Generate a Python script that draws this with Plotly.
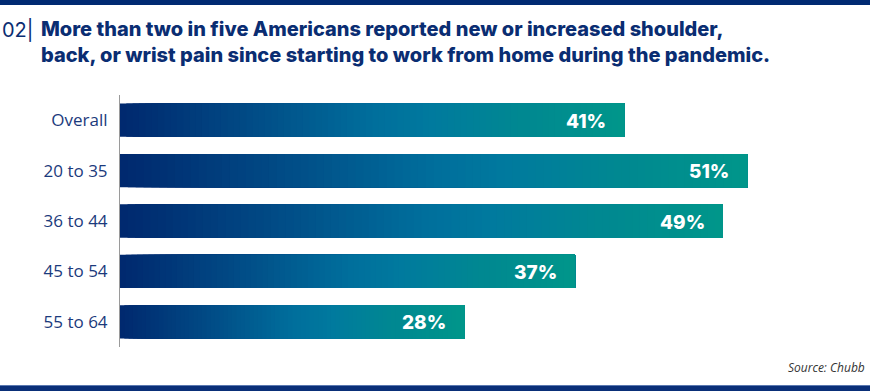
import plotly.graph_objects as go

categories = ["Overall", "20 to 35", "36 to 44", "45 to 54", "55 to 64"]
values = [41, 51, 49, 37, 28]
labels = ["41%", "51%", "49%", "37%", "28%"]

title_prefix = "02|"
title_lines = ["More than two in five Americans reported new or increased shoulder,",
               "back, or wrist pain since starting to work from home during the pandemic."]
source = "Source: Chubb"

# gradient stops (fraction along bar, rgb)
stops = [(0.0, (0, 40, 110)), (0.25, (1, 74, 133)), (0.5, (0, 110, 156)),
         (0.62, (0, 122, 158)), (0.8, (0, 136, 145)), (1.0, (0, 150, 138))]

def grad(t):
    for (a, ca), (b, cb) in zip(stops[:-1], stops[1:]):
        if a <= t <= b:
            f = (t - a) / (b - a) if b > a else 0
            c = [round(ca[i] + (cb[i] - ca[i]) * f) for i in range(3)]
            return f"rgb({c[0]},{c[1]},{c[2]})"
    return "rgb(0,150,138)"

N = 80
fig = go.Figure()
for k in range(N):
    fig.add_trace(go.Bar(
        y=categories,
        x=[v * (N - k) / N for v in values],
        base=[v * k / N for v in values],
        orientation="h",
        marker=dict(color=grad((k + 0.5) / N), line=dict(width=0)),
        hoverinfo="skip",
        showlegend=False,
    ))

navy = "#0a2d72"
L, R, T, B = 120, 8, 95, 44
W, H = 870, 391
pw, ph = W - L - R, H - T - B

def px_x(p):
    return (p - L) / pw

def px_y(p):
    return (H - B - p) / ph

shapes = [
    dict(type="rect", xref="paper", yref="paper", x0=px_x(0), x1=px_x(W),
         y0=px_y(5), y1=px_y(0), fillcolor="#002a72", line=dict(width=0), layer="above"),
    dict(type="rect", xref="paper", yref="paper", x0=px_x(0), x1=px_x(W),
         y0=px_y(391), y1=px_y(385.5), fillcolor="#0a2f78", line=dict(width=0), layer="above"),
    dict(type="line", xref="paper", yref="paper", x0=px_x(0), x1=px_x(W),
         y0=px_y(385.5), y1=px_y(385.5), line=dict(color="#5a78b0", width=1), layer="above"),
]

annotations = []
for c, v, lab in zip(categories, values, labels):
    annotations.append(dict(x=v, y=c, xref="x", yref="y", text=lab,
                            showarrow=False, xanchor="right", xshift=-16, yshift=-1,
                            font=dict(family="Inter", size=19, color="white", weight=800)))

annotations.append(dict(x=px_x(0), y=px_y(30), xref="paper", yref="paper",
                        text=title_prefix, showarrow=False, xanchor="left", yanchor="middle",
                        font=dict(family="Inter", size=20, color=navy, weight=400)))
annotations.append(dict(x=px_x(39), y=px_y(42), xref="paper", yref="paper",
                        text="<br>".join(title_lines), showarrow=False, xanchor="left",
                        yanchor="middle", align="left",
                        font=dict(family="Inter", size=20, color=navy, weight=800)))
annotations.append(dict(x=px_x(867), y=px_y(367), xref="paper", yref="paper",
                        text=f"<i>{source}</i>", showarrow=False, xanchor="right", yanchor="middle",
                        font=dict(family="Open Sans", size=12, color="#333333")))

fig.update_layout(
    width=W, height=H,
    margin=dict(l=L, r=R, t=T, b=B),
    paper_bgcolor="white", plot_bgcolor="white",
    barmode="overlay", bargap=0.34,
    xaxis=dict(range=[0, pw / 12.3], visible=False, fixedrange=True),
    yaxis=dict(categoryorder="array", categoryarray=categories, autorange="reversed",
               showline=True, linecolor="#9a9a9a", linewidth=1, ticks="",
               showgrid=False, zeroline=False, ticklabelstandoff=8, fixedrange=True,
               tickfont=dict(family="Open Sans", size=17, color="#1b3a7c")),
    shapes=shapes,
    annotations=annotations,
    showlegend=False,
)

fig.write_html("out.html", config={"displayModeBar": False},
               post_script="document.body.style.margin='0';document.body.style.padding='0';")
